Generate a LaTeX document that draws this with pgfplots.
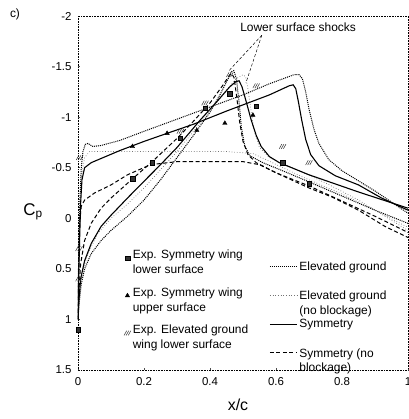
\documentclass[border=0pt]{standalone}
\usepackage{fontspec}
\setmainfont{Liberation Sans}
\usepackage{pgfplots}
\pgfplotsset{compat=1.18}
\makeatletter
\pgfdeclareplotmark{hatch}{%
  \pgfpathmoveto{\pgfqpoint{-1.3\pgfplotmarksize}{-0.9\pgfplotmarksize}}%
  \pgfpathlineto{\pgfqpoint{-0.3\pgfplotmarksize}{0.9\pgfplotmarksize}}%
  \pgfpathmoveto{\pgfqpoint{-0.5\pgfplotmarksize}{-0.9\pgfplotmarksize}}%
  \pgfpathlineto{\pgfqpoint{0.5\pgfplotmarksize}{0.9\pgfplotmarksize}}%
  \pgfpathmoveto{\pgfqpoint{0.3\pgfplotmarksize}{-0.9\pgfplotmarksize}}%
  \pgfpathlineto{\pgfqpoint{1.3\pgfplotmarksize}{0.9\pgfplotmarksize}}%
  \pgfusepathqstroke}
\makeatother
\newcommand{\two}[2]{\begin{tabular}{@{}l@{}}#1\\#2\end{tabular}}
\newcommand{\hang}[2]{\raisebox{0pt}[\height][5pt]{\begin{tabular}[t]{@{}l@{}}#1\\#2\end{tabular}}}
\begin{document}
\begin{tikzpicture}
\useasboundingbox (-78bp,-49bp) rectangle (331bp,370bp);
\pgfplotsset{base/.style={width=330bp,height=354bp,scale only axis,
  xmin=0,xmax=1,ymin=-2,ymax=1.5,y dir=reverse,at={(0,0)},anchor=south west}}
\begin{axis}[base,
  axis line style={densely dotted,line width=0.6pt},
  xtick={0,0.2,0.4,0.6,0.8,1},
  ytick={-2,-1.5,-1,-0.5,0,0.5,1,1.5},
  tick align=inside, tick pos=left, major tick length=2.5bp,
  tick style={line width=0.5pt,black!70},
  ticklabel style={font=\fontsize{11.5}{13}\selectfont},
  /pgf/number format/assume math mode=true,
  xticklabel style={yshift=-4bp},
  yticklabel style={xshift=-3bp},
  legend image code/.code={\draw[#1] (0bp,0bp) -- (27bp,0bp);},
  legend style={at={(0.57,0.318)},anchor=north west,draw=none,fill=none,
    font=\fontsize{12}{14.5}\selectfont,row sep=14bp},
  legend cell align=left]
% Elevated ground (dotted) -- upper surface
\addplot[black,densely dotted,line width=1pt] coordinates {
(0,1.0) (0.001,0.6) (0.003,0.2) (0.006,-0.2) (0.01,-0.5) (0.015,-0.66) (0.022,-0.73) (0.03,-0.74) (0.045,-0.71) (0.07,-0.72) (0.127,-0.77) (0.2,-0.86) (0.3,-0.98) (0.4,-1.10) (0.5,-1.22) (0.58,-1.33) (0.63,-1.39) (0.655,-1.42) (0.67,-1.42) (0.68,-1.38) (0.69,-1.25) (0.70,-1.08) (0.715,-0.88) (0.73,-0.74) (0.76,-0.58) (0.8,-0.47) (0.9,-0.27) (1,-0.05)};
\addlegendentry{Elevated ground}
% Elevated ground (no blockage) -- upper
\addplot[black!55,dotted,line width=0.7pt] coordinates {
(0,1.0) (0.002,0.5) (0.005,0.0) (0.01,-0.4) (0.02,-0.6) (0.035,-0.66) (0.1,-0.66) (0.3,-0.66) (0.45,-0.66) (0.53,-0.64) (0.57,-0.58) (0.62,-0.5) (0.7,-0.38) (0.8,-0.24) (0.9,-0.08) (1,0.09)};
\addlegendentry{\hang{Elevated ground}{(no blockage)}}
% Symmetry -- upper
\addplot[black,line width=1.1pt] coordinates {
(0,1.0) (0.002,0.6) (0.005,0.2) (0.008,-0.15) (0.012,-0.38) (0.02,-0.5) (0.04,-0.55) (0.127,-0.67) (0.2,-0.76) (0.27,-0.84) (0.35,-0.93) (0.45,-1.06) (0.58,-1.22) (0.62,-1.28) (0.64,-1.31) (0.652,-1.32) (0.66,-1.28) (0.668,-1.15) (0.678,-0.97) (0.69,-0.78) (0.705,-0.63) (0.73,-0.52) (0.78,-0.42) (0.85,-0.33) (0.92,-0.2) (1,-0.08)};
\addlegendentry{Symmetry}
% Symmetry (no blockage) -- upper
\addplot[black,dash pattern=on 4bp off 2.5bp,line width=1pt] coordinates {
(0,1.0) (0.002,0.5) (0.005,0.05) (0.01,-0.12) (0.02,-0.18) (0.05,-0.25) (0.1,-0.33) (0.15,-0.43) (0.22,-0.53) (0.3,-0.56) (0.4,-0.56) (0.5,-0.56) (0.55,-0.53) (0.6,-0.45) (0.7,-0.3) (0.77,-0.21) (0.85,-0.08) (0.93,0.08) (1,0.19)};
\addlegendentry{\hang{Symmetry (no}{blockage)}}
% lower surfaces
\addplot[black,densely dotted,line width=1pt,forget plot] coordinates {
(0,1.0) (0.003,0.85) (0.01,0.65) (0.02,0.5) (0.04,0.35) (0.07,0.22) (0.1,0.12) (0.15,-0.02) (0.2,-0.18) (0.25,-0.38) (0.3,-0.6) (0.35,-0.82) (0.4,-1.05) (0.43,-1.22) (0.455,-1.38) (0.465,-1.45) (0.472,-1.46) (0.48,-1.38) (0.488,-1.15) (0.495,-0.9) (0.505,-0.72) (0.52,-0.62) (0.56,-0.55) (0.62,-0.47) (0.7,-0.36) (0.8,-0.22) (0.9,-0.08) (1,0.05)};
\addplot[black!55,dotted,line width=0.7pt,forget plot] coordinates {
(0,1.0) (0.004,0.8) (0.012,0.55) (0.03,0.35) (0.06,0.15) (0.1,0.0) (0.15,-0.14) (0.2,-0.3) (0.25,-0.48) (0.3,-0.66) (0.35,-0.86) (0.4,-1.06) (0.45,-1.27) (0.48,-1.38) (0.5,-1.42) (0.508,-1.4) (0.515,-1.28) (0.525,-1.05) (0.535,-0.85) (0.55,-0.7) (0.58,-0.6) (0.65,-0.5) (0.75,-0.35) (0.85,-0.18) (1,0.12)};
\addplot[black,line width=1.1pt,forget plot] coordinates {
(0,1.0) (0.003,0.8) (0.008,0.6) (0.02,0.42) (0.04,0.25) (0.07,0.08) (0.1,-0.03) (0.15,-0.2) (0.18,-0.3) (0.25,-0.53) (0.3,-0.7) (0.37,-0.97) (0.42,-1.15) (0.46,-1.3) (0.478,-1.35) (0.488,-1.36) (0.497,-1.3) (0.51,-1.15) (0.525,-0.97) (0.54,-0.82) (0.555,-0.71) (0.58,-0.61) (0.61,-0.55) (0.7,-0.43) (0.85,-0.26) (1,-0.1)};
\addplot[black,dash pattern=on 4bp off 2.5bp,line width=1pt,forget plot] coordinates {
(0,1.0) (0.003,0.7) (0.008,0.45) (0.02,0.22) (0.04,0.05) (0.07,-0.1) (0.1,-0.2) (0.165,-0.39) (0.225,-0.56) (0.3,-0.79) (0.35,-0.96) (0.4,-1.14) (0.44,-1.32) (0.458,-1.41) (0.466,-1.43) (0.473,-1.39) (0.481,-1.2) (0.49,-0.95) (0.5,-0.76) (0.515,-0.63) (0.54,-0.55) (0.6,-0.45) (0.7,-0.32) (0.8,-0.17) (0.9,-0.02) (1,0.14)};
% annotation
\node[font=\fontsize{12}{13}\selectfont] at (axis cs:0.667,-1.885) {Lower surface shocks};
\draw[black,line width=0.5pt,densely dashed] (axis cs:0.557,-1.81) -- (axis cs:0.455,-1.45);
\draw[black,line width=0.5pt,densely dashed] (axis cs:0.557,-1.81) -- (axis cs:0.509,-1.34);
\end{axis}
\begin{axis}[base,hide axis,
  legend style={at={(0.13,0.355)},anchor=north west,draw=none,fill=none,
    font=\fontsize{12}{15}\selectfont,row sep=14bp},
  legend cell align=left]
\addplot[only marks,mark=square*,mark size=2.3pt,draw=black,fill=black!80] coordinates {
(0,1.1) (0.165,-0.39) (0.225,-0.55) (0.31,-0.79) (0.385,-1.09) (0.46,-1.23) (0.54,-1.11) (0.62,-0.55) (0.70,-0.34)};
\addlegendentry{\two{Exp. Symmetry wing}{lower surface}}
\addplot[only marks,mark=triangle*,mark size=2.5pt,draw=black,fill=black] coordinates {
(0.165,-0.71) (0.27,-0.84) (0.36,-0.87) (0.445,-0.94) (0.53,-1.02)};
\addlegendentry{\two{Exp. Symmetry wing}{upper surface}}
\addplot[only marks,mark=hatch,mark size=2.6pt,black!80,line width=0.5pt] coordinates {
(0.003,0.6) (0.003,0.3) (0.005,-0.6) (0.31,-0.86) (0.385,-1.14) (0.46,-1.42) (0.54,-1.31) (0.62,-0.71) (0.70,-0.55)};
\addlegendentry{\two{Exp. Elevated ground}{wing lower surface}}
\end{axis}
\node[font=\fontsize{12}{14}\selectfont] at (-63bp,356bp) {c)};
\node[font=\fontsize{17}{18}\selectfont] at (-45bp,158bp) {C\textsubscript{p}};
\node[font=\fontsize{16}{18}\selectfont] at (160bp,-35bp) {x/c};
\end{tikzpicture}
\end{document}
